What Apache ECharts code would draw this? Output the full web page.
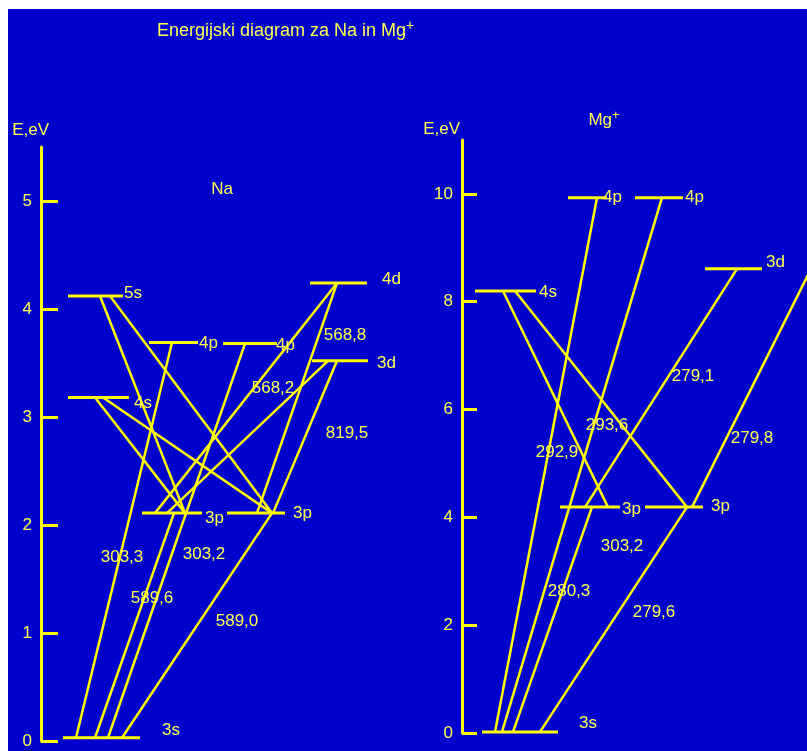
<!DOCTYPE html>
<html>
<head>
<meta charset="utf-8">
<script src="https://cdn.jsdelivr.net/npm/echarts@6/dist/echarts.min.js"></script>
<style>
  html, body { margin: 0; padding: 0; background: #fff; }
  #chart { width: 807px; height: 751px; background: #0000cc; box-shadow: inset 8px 9px 0 0 #fff; }
</style>
</head>
<body>
<div id="chart"></div>
<script>
// nivoji: [id, oznaka, E (eV), x od, x do]  (x je v enotah skrite osi, 1 enota = 4 px)
const naLevels = [
  ['3s', '3s', 0.03, 5.5, 24.75],
  ['3pa', '3p', 2.11, 25.25, 40.25],
  ['3pb', '3p', 2.11, 46.5, 61],
  ['4s', '4s', 3.18, 6.75, 22],
  ['5s', '5s', 4.12, 6.75, 20.5],
  ['4pa', '4p', 3.69, 27, 39.25],
  ['4pb', '4p', 3.68, 45.5, 59],
  ['4d', '4d', 4.24, 67.25, 81.5],
  ['3d', '3d', 3.52, 67.75, 81.75]
]
// prehodi: [iz nivoja, x, v nivo, x]
const naTransitions = [
  ['5s', 14.75, '3pa', 36],
  ['5s', 17.25, '3pb', 57.75],
  ['4s', 13.5, '3pa', 36],
  ['4s', 15.5, '3pb', 57.75],
  ['4pa', 32.75, '3s', 8.75],
  ['4pb', 51, '3s', 16.75],
  ['3s', 13.5, '3pa', 33.25],
  ['3s', 20.25, '3pb', 57.75],
  ['4d', 74, '3pa', 28.5],
  ['4d', 74, '3pb', 54],
  ['3d', 71.75, '3pa', 31.5],
  ['3d', 74, '3pb', 58]
]
// valovne dolzine (nm): [tekst, x, E]
const naWavelengths = [
  ['303,3', 20.25, 1.70],
  ['303,2', 40.75, 1.73],
  ['589,6', 27.75, 1.32],
  ['589,0', 49, 1.11],
  ['568,8', 76, 3.76],
  ['568,2', 58, 3.27],
  ['819,5', 76.5, 2.85]
]
const naTicks = [0, 1, 2, 3, 4, 5]

const mgLevels = [
  ['3s', '3s', 0.02, 5, 24],
  ['3pa', '3p', 4.19, 24.5, 39.5],
  ['3pb', '3p', 4.19, 45.75, 60.25],
  ['4s', '4s', 8.2, 3.25, 18.5],
  ['4pa', '4p', 9.93, 26.5, 36.25],
  ['4pb', '4p', 9.93, 43.25, 55.25],
  ['3d', '3d', 8.61, 60.75, 75],
  ['3d2', '', 8.61, 87.25, 101.5]
]
const mgTransitions = [
  ['4s', 10.25, '3pa', 36.5],
  ['4s', 13.25, '3pb', 56.25],
  ['3d', 68.75, '3pa', 30.75],
  ['3pb', 57.5, '3d2', 87.25],
  ['3s', 19.5, '3pb', 56.25],
  ['3s', 12.75, '3pa', 32.5],
  ['3s', 8.25, '4pa', 33.75],
  ['3s', 10, '4pb', 50]
]
const mgWavelengths = [
  ['279,1', 57.75, 6.62],
  ['293,6', 36.25, 5.70],
  ['292,9', 23.75, 5.21],
  ['279,8', 72.5, 5.47],
  ['303,2', 40, 3.47],
  ['280,3', 26.75, 2.62],
  ['279,6', 48, 2.23]
]
const mgTicks = [0, 2, 4, 6, 8, 10]

// oznake nivojev: odmik od konca crte [dx, dy] v px
const naLabelGap = { '3s': [22, -7], '3pa': [3, 5], '3pb': [8, 0], '4s': [5, 6], '5s': [1, -3], '4pa': [1, 1], '4pb': [-1, 2], '4d': [15, -4], '3d': [9, 2] }
const mgLabelGap = { '3s': [21, -9], '3pa': [2, 2], '3pb': [8, -1], '4s': [3, 1], '4pa': [-4, 0], '4pb': [2, 0], '3d': [4, -7], '3d2': [0, 0] }

const yellow = '#ffff00'
const textColor = '#ffff55'
const font = 'Liberation Sans, Arial, sans-serif'
const fs = 17

function panelSeries(idx, levels, transitions, wavelengths, gaps, title) {
  let out = []
  let energy = {}
  levels.forEach(l => { energy[l[0]] = l[2] })
  levels.forEach(l => {
    out.push({
      type: 'line', xAxisIndex: idx, yAxisIndex: idx,
      data: [[l[3], l[2]], [l[4], l[2]]],
      symbol: 'none', silent: true, z: 3,
      lineStyle: { color: yellow, width: 3 },
      endLabel: {
        show: l[1] !== '', formatter: l[1], color: textColor, fontSize: fs, fontFamily: font,
        distance: gaps[l[0]][0], offset: [0, gaps[l[0]][1]]
      }
    })
  })
  transitions.forEach(t => {
    out.push({
      type: 'line', xAxisIndex: idx, yAxisIndex: idx,
      data: [[t[1], energy[t[0]]], [t[3], energy[t[2]]]],
      symbol: 'none', silent: true,
      lineStyle: { color: yellow, width: 2.5 }
    })
  })
  out.push({
    type: 'scatter', xAxisIndex: idx, yAxisIndex: idx, clip: false, silent: true, z: 4,
    symbolSize: 0, itemStyle: { opacity: 1 },
    data: wavelengths.map(w => [w[1], w[2], w[0]]).concat([[title[1], title[2], title[0]]]),
    label: {
      show: true, position: 'inside', color: textColor, fontSize: fs, fontFamily: font,
      formatter: p => p.data[2],
      rich: {
        m: { color: textColor, fontSize: fs, fontFamily: font },
        sup: { color: textColor, fontSize: 13, fontFamily: font, padding: [0, 0, 10, 0] }
      }
    }
  })
  return out
}

function yAxisOf(idx, max, ticks, tickLen, nameShift, nameGap) {
  return {
    type: 'value', gridIndex: idx, min: 0, max: max,
    name: 'E,eV', nameLocation: 'end', nameGap: nameGap,
    nameTextStyle: { color: textColor, fontSize: fs, fontFamily: font, align: 'right', padding: [0, -nameShift, 0, 0] },
    axisLine: { show: true, lineStyle: { color: yellow, width: 3 } },
    axisTick: { show: true, inside: true, length: tickLen, customValues: ticks, lineStyle: { color: yellow, width: 3 } },
    axisLabel: { color: textColor, fontSize: fs, fontFamily: font, margin: 9, customValues: ticks },
    splitLine: { show: false }
  }
}

let myChart = echarts.init(document.getElementById('chart'))
myChart.setOption({
  animation: false,
  title: {
    text: '{t|Energijski diagram za Na in Mg}{s|+}',
    left: 152, top: 14,
    textStyle: {
      fontWeight: 'normal',
      rich: {
        t: { color: textColor, fontSize: 18, fontFamily: font, fontWeight: 'normal' },
        s: { color: textColor, fontSize: 14, fontFamily: font, fontWeight: 'normal', padding: [0, 0, 10, 0] }
      }
    }
  },
  grid: [
    { left: 41, top: 147, width: 400, height: 594 },
    { left: 462, top: 140, width: 345, height: 593 }
  ],
  xAxis: [
    { type: 'value', gridIndex: 0, min: 0, max: 100, show: false },
    { type: 'value', gridIndex: 1, min: 0, max: 86.25, show: false }
  ],
  yAxis: [
    yAxisOf(0, 5.5, naTicks, 17, 8, 8),
    yAxisOf(1, 11, mgTicks, 15, -2, 2)
  ],
  series: panelSeries(0, naLevels, naTransitions, naWavelengths, naLabelGap, ['{m|Na}', 45.25, 5.11])
    .concat(panelSeries(1, mgLevels, mgTransitions, mgWavelengths, mgLabelGap, ['{m|Mg}{sup|+}', 35.5, 11.37]))
})
</script>
</body>
</html>
